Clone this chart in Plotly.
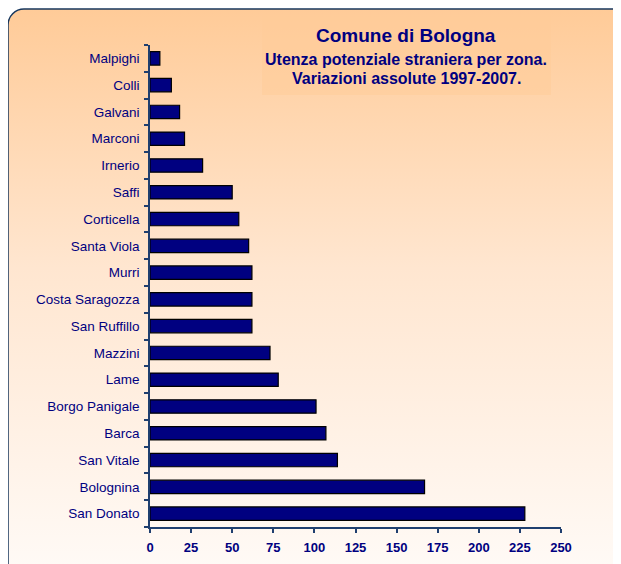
import base64
import plotly.graph_objects as go

zones = ["San Donato", "Bolognina", "San Vitale", "Barca", "Borgo Panigale", "Lame",
         "Mazzini", "San Ruffillo", "Costa Saragozza", "Murri", "Santa Viola",
         "Corticella", "Saffi", "Irnerio", "Marconi", "Galvani", "Colli", "Malpighi"]
values = [228, 167, 114, 107, 101, 78, 73, 62, 62, 62, 60, 54, 50, 32, 21, 18, 13, 6]
x_ticks = [0, 25, 50, 75, 100, 125, 150, 175, 200, 225, 250]

W, H = 621, 564
L, R, T, B = 142, 68, 37, 45
pw, ph = W - L - R, H - T - B

NAVY = "#000080"
AX = "#1F3F6F"
FONT = "Liberation Sans, Arial"

svg = f'''<svg xmlns="http://www.w3.org/2000/svg" width="{W}" height="{H}" viewBox="0 0 {W} {H}">
<defs><linearGradient id="g" x1="0" y1="0" x2="0" y2="1">
<stop offset="0" stop-color="#FFCB98"/>
<stop offset="0.45" stop-color="#FFE6D0"/>
<stop offset="1" stop-color="#FFFBF8"/>
</linearGradient></defs>
<rect x="0" y="1" width="640" height="575" rx="16" ry="16" fill="url(#g)" stroke="#17375E" stroke-width="1.5"/>
<rect x="254" y="6" width="289" height="81" fill="#FFCC99" fill-opacity="0.55"/>
</svg>'''
src = "data:image/svg+xml;base64," + base64.b64encode(svg.encode()).decode()

fig = go.Figure(go.Bar(
    x=values, y=zones, orientation="h",
    marker=dict(color=NAVY, line=dict(color="#000000", width=1.2)),
    width=0.5,
))

fig.update_layout(
    width=W, height=H,
    margin=dict(l=L, r=R, t=T, b=B),
    paper_bgcolor="white",
    plot_bgcolor="rgba(0,0,0,0)",
    showlegend=False,
    font=dict(family=FONT, color=NAVY),
    images=[dict(source=src, xref="paper", yref="paper",
                 x=-L / pw, y=1 + T / ph, sizex=W / pw, sizey=H / ph,
                 xanchor="left", yanchor="top", sizing="stretch", layer="below")],
    xaxis=dict(range=[0, 250], tickvals=x_ticks, ticks="outside", ticklen=4,
               tickcolor=AX, tickwidth=1.5, showline=True, linecolor=AX, linewidth=1.5,
               showgrid=False, zeroline=False, ticklabelstandoff=4,
               tickfont=dict(family=FONT, size=13, color=NAVY, weight="bold")),
    yaxis=dict(categoryorder="array", categoryarray=zones, range=[-0.5, len(zones) - 0.5],
               ticks="outside", ticklen=4, tickson="boundaries", tickcolor=AX, tickwidth=1.5,
               showline=True, linecolor=AX, linewidth=1.5, showgrid=False,
               tickfont=dict(family=FONT, size=13.5, color=NAVY),
               ticklabelstandoff=6),
)


def pa(px, py, text, size):
    fig.add_annotation(text=text, x=(px - L) / pw, y=1 - (py - T) / ph,
                       xref="paper", yref="paper", showarrow=False,
                       xanchor="center", yanchor="middle",
                       font=dict(family=FONT, size=size, color=NAVY))


pa(398, 27, "<b>Comune di Bologna</b>", 19)
pa(398, 51, "<b>Utenza potenziale straniera per zona.</b>", 16)
pa(398, 70, "<b>Variazioni assolute 1997-2007.</b>", 16)

fig.write_html("out.html")
